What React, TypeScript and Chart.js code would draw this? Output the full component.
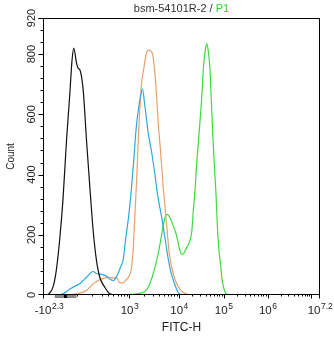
import React, { useEffect, useRef } from "react";
import { Chart, registerables } from "chart.js";

Chart.register(...registerables);

// ---- text ----
const titleText = "bsm-54101R-2 / ";
const titleGate = "P1";
const xAxisTitle = "FITC-H";
const yAxisTitle = "Count";

// ---- axes (x in display channels 0..1000, biexponential FITC-H) ----
const xMin = 0;
const xMax = 1000;
const yMin = 0;
const yMax = 920;
const xTickChannels = [0, 312, 491, 652, 811, 1000];
const xTickBases = ["-10", "10", "10", "10", "10", "10"];
const xTickExps = ["2.3", "3", "4", "5", "6", "7.2"];
const xLinearTicks = [42, 121]; // -100, 100
const xZeroChannel = 81;
const yMajorTicks = [0, 200, 400, 600, 800, 920];
const yMinorStep = 40;

// ---- series ----
const blackX = [18, 36, 48, 60, 72, 85, 97, 105, 111, 121, 126, 135, 145, 157, 169, 181, 193, 205, 223, 241, 260];
const blackY = [0, 26, 82, 182, 315, 515, 670, 782, 820, 770, 755, 743, 682, 515, 360, 215, 115, 59, 26, 4, 0];

const cyanX = [61, 72, 97, 121, 133, 145, 157, 181, 191, 199, 213, 230, 242, 253, 266, 278, 290, 299, 309, 318, 327, 336, 345, 352, 359, 368, 380, 393, 404, 416, 429, 441, 453, 462, 471, 483, 491, 502];
const cyanY = [0, 4, 20, 32, 37, 48, 59, 78, 72, 70, 68, 62, 52, 48, 62, 88, 120, 190, 260, 340, 440, 550, 620, 660, 684, 626, 537, 470, 400, 320, 255, 185, 115, 75, 48, 18, 5, 0];

const orangeX = [85, 121, 157, 181, 205, 230, 253, 266, 278, 290, 299, 308, 320, 326, 332, 338, 344, 350, 356, 365, 372, 380, 389, 396, 404, 411, 416, 423, 435, 447, 456, 471, 483, 495, 507, 524, 538];
const orangeY = [0, 4, 15, 37, 51, 58, 57, 57, 40, 40, 50, 59, 93, 159, 270, 382, 515, 626, 704, 759, 798, 813, 810, 798, 737, 648, 570, 493, 348, 226, 137, 68, 37, 18, 8, 1, 0];

const greenX = [318, 350, 368, 380, 398, 416, 429, 441, 449, 459, 471, 483, 491, 501, 509, 519, 526, 531, 537, 543, 549, 555, 561, 567, 574, 579, 586, 591, 596, 602, 607, 613, 618, 624, 629, 634, 640, 646, 652, 658, 665, 676];
const greenY = [2, 6, 12, 26, 71, 137, 204, 259, 268, 255, 228, 195, 160, 135, 140, 158, 170, 182, 210, 285, 350, 437, 510, 580, 670, 754, 815, 835, 815, 760, 660, 531, 440, 345, 240, 160, 110, 55, 25, 9, 2, 0];

const FONT = "'Liberation Sans', Arial, sans-serif";

function pts(xs: number[], ys: number[]) {
  return xs.map((x, i) => ({ x, y: ys[i] }));
}

const flowAxesPlugin = {
  id: "flowAxes",
  afterDraw(chart: any) {
    const { ctx, chartArea: a, scales } = chart;
    const xs = scales.x;
    const ys = scales.y;
    ctx.save();
    ctx.strokeStyle = "#000";
    ctx.lineWidth = 1;
    // frame
    ctx.strokeRect(a.left + 0.5, a.top + 0.5, a.right - a.left - 1, a.bottom - a.top - 1);

    const hline = (x1: number, x2: number, y: number) => {
      ctx.beginPath();
      ctx.moveTo(x1, Math.round(y) + 0.5);
      ctx.lineTo(x2, Math.round(y) + 0.5);
      ctx.stroke();
    };
    const vline = (x: number, y1: number, y2: number) => {
      ctx.beginPath();
      ctx.moveTo(Math.round(x) + 0.5, y1);
      ctx.lineTo(Math.round(x) + 0.5, y2);
      ctx.stroke();
    };

    // y ticks
    const yl = a.left + 0.5;
    for (let v = yMin; v <= yMax; v += yMinorStep) {
      const y = ys.getPixelForValue(v);
      const major = yMajorTicks.includes(v);
      hline(yl - (major ? 5 : 3), yl, Math.min(y, a.bottom - 1));
    }
    hline(yl - 5, yl, ys.getPixelForValue(yMax));

    // y labels (rotated)
    ctx.fillStyle = "#222";
    ctx.font = `11px ${FONT}`;
    ctx.textAlign = "center";
    ctx.textBaseline = "alphabetic";
    for (const v of yMajorTicks) {
      const y = ys.getPixelForValue(v);
      ctx.save();
      ctx.translate(35, y);
      ctx.rotate(-Math.PI / 2);
      ctx.fillText(String(v), 0, 0);
      ctx.restore();
    }
    // y title
    ctx.save();
    ctx.font = `10px ${FONT}`;
    ctx.translate(14, (a.top + a.bottom) / 2);
    ctx.rotate(-Math.PI / 2);
    ctx.fillText(yAxisTitle, 0, 0);
    ctx.restore();

    // x ticks
    const yb = a.bottom - 0.5;
    const drawX = (ch: number, len: number) => {
      const x = Math.min(xs.getPixelForValue(ch), a.right - 1);
      vline(x, yb, yb + len);
    };
    xTickChannels.forEach((ch) => drawX(ch, 4));
    xLinearTicks.forEach((ch) => drawX(ch, 2));
    // 200..900 between 100 and 1000
    const lowDec = xTickChannels[1] - xLinearTicks[1];
    for (let k = 2; k <= 9; k++) drawX(xLinearTicks[1] + Math.log10(k) * lowDec, 2);
    for (let i = 1; i < xTickChannels.length - 1; i++) {
      const start = xTickChannels[i];
      const dec = i < xTickChannels.length - 2
        ? xTickChannels[i + 1] - start
        : (xTickChannels[i + 1] - start) / 1.2;
      for (let d = 0; d < 2; d++) {
        for (let k = d === 0 ? 2 : 1; k <= 9; k++) {
          const ch = start + (d + Math.log10(k)) * dec;
          if (d === 1 && i < xTickChannels.length - 2) continue;
          if (ch < xTickChannels[i + 1] - 0.5) drawX(ch, k === 1 ? 4 : 2);
        }
      }
    }

    // gate bar & zero marker
    const gx1 = xs.getPixelForValue(xLinearTicks[0]);
    const gx2 = xs.getPixelForValue(xLinearTicks[1]);
    ctx.fillStyle = "#8a8a8a";
    ctx.fillRect(gx1, a.bottom, gx2 - gx1, 3);
    const zx = xs.getPixelForValue(xZeroChannel);
    ctx.fillStyle = "#000";
    ctx.fillRect(zx - 1.5, a.bottom, 3, 3);

    // x labels with superscripts
    ctx.fillStyle = "#222";
    ctx.textAlign = "left";
    xTickChannels.forEach((ch, i) => {
      const px = xs.getPixelForValue(ch);
      ctx.font = `11.5px ${FONT}`;
      const wb = ctx.measureText(xTickBases[i]).width;
      ctx.font = `8.5px ${FONT}`;
      const we = ctx.measureText(xTickExps[i]).width;
      let left = px - (wb + we) / 2;
      if (i === 0) left += 6;
      ctx.font = `11.5px ${FONT}`;
      ctx.fillText(xTickBases[i], left, 313.5);
      ctx.font = `8.5px ${FONT}`;
      ctx.fillText(xTickExps[i], left + wb + 0.5, 308.5);
    });

    // x title
    ctx.font = `12px ${FONT}`;
    ctx.textAlign = "center";
    ctx.fillStyle = "#222";
    ctx.fillText(xAxisTitle, (a.left + a.right) / 2, 331);

    // chart title
    ctx.font = `11px ${FONT}`;
    ctx.textAlign = "left";
    const w1 = ctx.measureText(titleText).width;
    const w2 = ctx.measureText(titleGate).width;
    const tx = (a.left + a.right) / 2 - (w1 + w2) / 2;
    ctx.fillStyle = "#333";
    ctx.fillText(titleText, tx, 11.5);
    ctx.fillStyle = "#33cc33";
    ctx.fillText(titleGate, tx + w1, 11.5);

    ctx.restore();
  },
};

export default function App() {
  const ref = useRef<HTMLCanvasElement | null>(null);
  useEffect(() => {
    if (!ref.current) return;
    const ds = (label: string, xs: number[], ys: number[], color: string) => ({
      label,
      data: pts(xs, ys),
      borderColor: color,
      backgroundColor: color,
      borderWidth: 1.2,
      pointRadius: 0,
      fill: false,
      cubicInterpolationMode: "monotone" as const,
    });
    const chart = new Chart(ref.current, {
      type: "line",
      data: {
        datasets: [
          ds("Control", blackX, blackY, "#111111"),
          ds("Sample A", cyanX, cyanY, "#2ea9df"),
          ds("Sample B", orangeX, orangeY, "#eb9f6a"),
          ds("P1", greenX, greenY, "#3ddc3d"),
        ],
      },
      options: {
        responsive: false,
        animation: false,
        devicePixelRatio: 1,
        layout: { padding: { left: 43, right: 14, top: 18, bottom: 42 } },
        plugins: { legend: { display: false }, tooltip: { enabled: false }, title: { display: false } },
        scales: {
          x: { type: "linear", min: xMin, max: xMax, display: false },
          y: { type: "linear", min: yMin, max: yMax, display: false },
        },
      },
      plugins: [flowAxesPlugin],
    });
    return () => chart.destroy();
  }, []);
  return (
    <div style={{ position: "fixed", left: 0, top: 0, width: 334, height: 337, background: "#fff" }}>
      <canvas ref={ref} width={334} height={337} style={{ display: "block" }} />
    </div>
  );
}
